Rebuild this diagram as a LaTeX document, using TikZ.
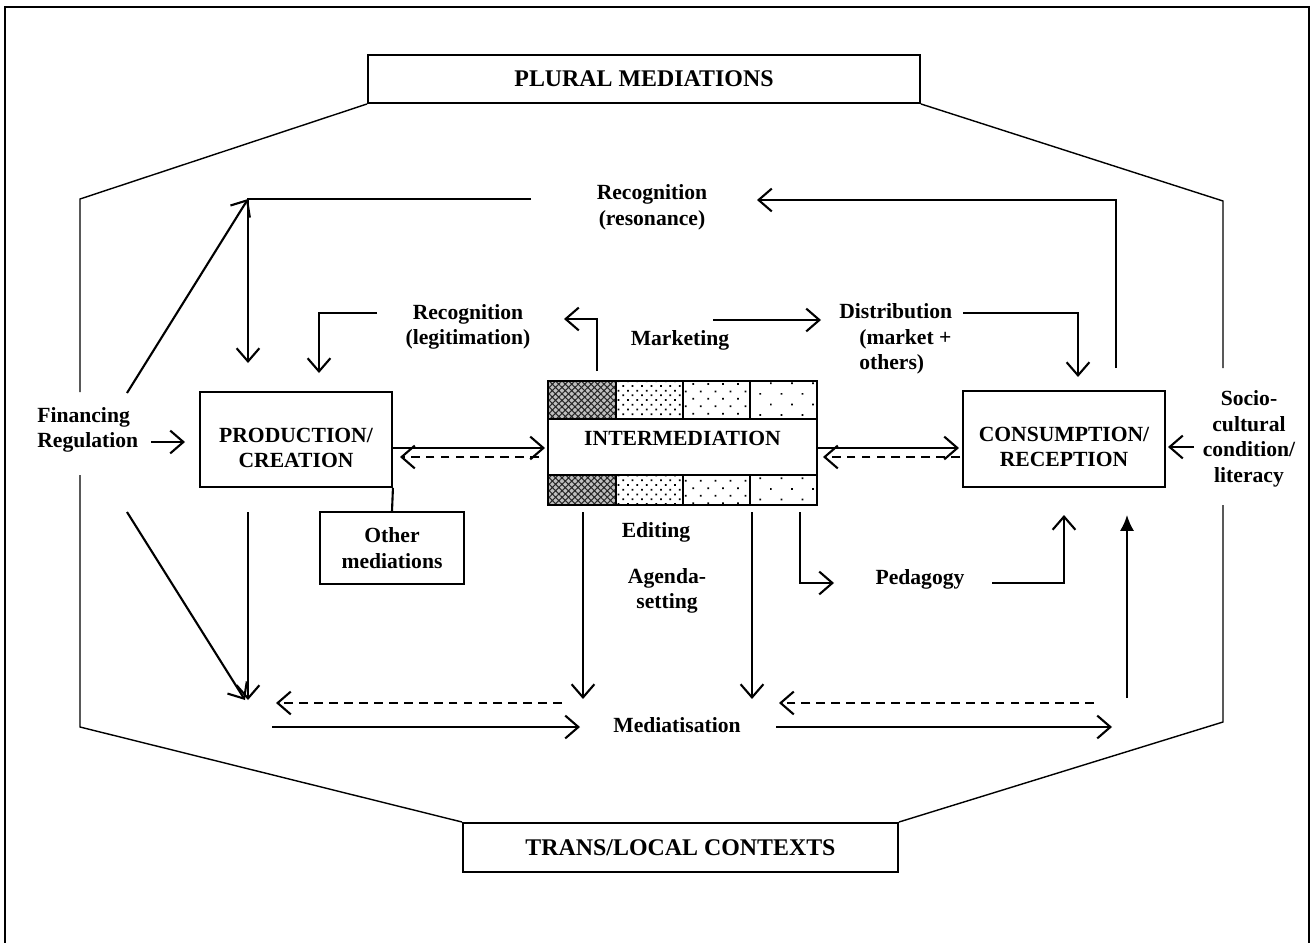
\documentclass[tikz,border=0pt]{standalone}
\usepackage{fontspec}
\setmainfont{Liberation Serif}
\usepackage{tikz}
\usetikzlibrary{arrows.meta,patterns.meta,positioning}

\tikzset{
  every node/.style={font=\fontsize{12.3}{14.6}\selectfont\bfseries},
  box/.style={draw, line width=1.1pt, fill=white, inner sep=0pt},
  titlebox/.style={box, font=\fontsize{13.6}{16}\selectfont\bfseries},
  txt/.style={align=center, inner sep=0pt},
  rim/.style={line width=0.8pt},
  conn/.style={line width=1.2pt},
  arr/.style={conn, -{Straight Barb[length=7.5pt,width=13pt]}},
  darr/.style={arr, dash pattern=on 5pt off 3.5pt},
  farr/.style={conn, -{Latex[length=9pt,width=8pt]}},
  cellline/.style={line width=0.8pt},
}

\begin{document}
\begin{tikzpicture}[x=0.02cm,y=-0.02cm]
			%%%%% START %%%%%
			\useasboundingbox (0,0) rectangle (1313,943);
			\draw[line width=1pt] (5,943) -- (5,7) -- (1309,7) -- (1309,943);
			
			\node[titlebox, minimum width=11.04cm, minimum height=0.96cm] (plural) at (644,79) {PLURAL MEDIATIONS};
			\node[titlebox, minimum width=8.7cm, minimum height=0.98cm] (trans) at (680.5,847.5) {TRANS/LOCAL CONTEXTS};
			
			\draw[rim] (80,392) -- (80,199) -- (plural.south west);
			\draw[rim] (plural.south east) -- (1223,201) -- (1223,368);
			\draw[rim] (80,475) -- (80,727) -- (trans.north west);
			\draw[rim] (trans.north east) -- (1223,722) -- (1223,505);
			
			\node[box, minimum width=3.84cm, minimum height=1.9cm] (prod) at (296,439.5) {};
			\node[txt] (prodtxt) at (296,448) {PRODUCTION/\\CREATION};
			\node[box, txt, minimum width=2.88cm, minimum height=1.44cm] (other) at (392,548) {Other\\mediations};
			\draw[conn] (prod.south east) -- (other.north);
			
			\node[box, minimum width=4.04cm, minimum height=1.92cm] (cons) at (1064,439) {};
			\node[txt] (constxt) at (1064,447) {CONSUMPTION/\\RECEPTION};
			
			% intermediation with its patterned strips
			\fill[black!25] (548,381) rectangle (616,419);
			\fill[black!25] (548,475) rectangle (616,505);
			\draw[cellline, pattern={Hatch[angle=45,distance=2.6pt,line width=0.6pt]}, pattern color=black!85] (548,381) rectangle (616,419);
			\draw[cellline, pattern={Hatch[angle=45,distance=2.6pt,line width=0.6pt]}, pattern color=black!85] (548,475) rectangle (616,505);
			\foreach \xa/\xb/\dd in {616/683/3.8pt, 683/750/6pt, 750/817/8.5pt}{
				\draw[cellline, pattern={Dots[distance=\dd,radius=0.7pt,angle=45]}] (\xa,381) rectangle (\xb,419);
				\draw[cellline, pattern={Dots[distance=\dd,radius=0.7pt,angle=45]}] (\xa,475) rectangle (\xb,505);
			}
			\node[box, minimum width=5.38cm, minimum height=1.12cm] (inter) at (682.5,447) {};
			\node[txt] (intertxt) at (682.5,438) {INTERMEDIATION};
			\draw[conn] (548,381) rectangle (817,505);
			
			% labels
			\node[txt, anchor=west, align=left] (fin) at (37,430) {Financing\\Regulation};
			\node[txt] (socio) at (1249,439) {Socio-\\cultural\\condition/\\literacy};
			\node[txt] (resonance) at (652,207) {Recognition\\(resonance)};
			\node[txt] (legit) at (468,327) {Recognition\\(legitimation)};
			\node[txt] (mkt) at (680,340) {Marketing};
			\node[txt, anchor=west, align=left] (distr) at (839,339) {Distribution\\\hspace*{0.4cm}(market +\\\hspace*{0.4cm}others)};
			\node[txt] (edit) at (656,532) {Editing};
			\node[txt] (agenda) at (667,591) {Agenda-\\setting};
			\node[txt] (peda) at (920,579) {Pedagogy};
			\node[txt] (media) at (677,725) {Mediatisation};
			
			% free ends of the connectors
			\coordinate (rtl) at (248,199);
			\coordinate (rtr) at (531,199);
			\coordinate (prodin) at (248,363);
			\coordinate (finup) at (127,393);
			\coordinate (finr) at (151,442);
			\coordinate (prodl) at (185,442);
			\coordinate (findn) at (127,512);
			\coordinate (findntip) at (245,700);
			\coordinate (proddn) at (248,512);
			\coordinate (proddntip) at (248,700);
			\coordinate (consup) at (1116,368);
			\coordinate (rescorner) at (1116,200);
			\coordinate (restip) at (757,200);
			\coordinate (legr) at (377,313);
			\coordinate (legc) at (319,313);
			\coordinate (legtip) at (319,373);
			\coordinate (mkb) at (597,371);
			\coordinate (mkc) at (597,319);
			\coordinate (mktip) at (564,319);
			\coordinate (mks) at (713,320);
			\coordinate (mke) at (821,320);
			\coordinate (dis) at (963,313);
			\coordinate (disc) at (1078,313);
			\coordinate (distip) at (1078,377);
			\coordinate (pi1) at (392,448);
			\coordinate (pi2) at (545,448);
			\coordinate (pi3) at (539,457);
			\coordinate (pi4) at (400,457);
			\coordinate (ic1) at (818,448);
			\coordinate (ic2) at (959,448);
			\coordinate (ic3) at (960,457);
			\coordinate (ic4) at (823,457);
			\coordinate (soc1) at (1194,447);
			\coordinate (soc2) at (1168,447);
			\coordinate (ed1) at (583,512);
			\coordinate (ed2) at (583,699);
			\coordinate (ag1) at (752,512);
			\coordinate (ag2) at (752,699);
			\coordinate (pe1) at (800,512);
			\coordinate (pe2) at (800,583);
			\coordinate (pe3) at (834,583);
			\coordinate (pe4) at (992,583);
			\coordinate (pe5) at (1064,583);
			\coordinate (pe6) at (1064,515);
			\coordinate (up1) at (1127,698);
			\coordinate (up2) at (1127,515);
			\coordinate (ml1) at (562,703);
			\coordinate (ml2) at (276,703);
			\coordinate (ml3) at (272,727);
			\coordinate (ml4) at (580,727);
			\coordinate (mr1) at (1094,703);
			\coordinate (mr2) at (779,703);
			\coordinate (mr3) at (776,727);
			\coordinate (mr4) at (1112,727);
			
			% connectors
			\draw[arr] (rtr) -- (rtl) -- (prodin);
			\draw[arr] (finup) -- (rtl);
			\draw[arr] (finr) -- (prodl);
			\draw[arr] (findn) -- (findntip);
			\draw[arr] (proddn) -- (proddntip);
			\draw[arr] (consup) -- (rescorner) -- (restip);
			\draw[arr] (legr) -- (legc) -- (legtip);
			\draw[arr] (mkb) -- (mkc) -- (mktip);
			\draw[arr] (mks) -- (mke);
			\draw[arr] (dis) -- (disc) -- (distip);
			\draw[arr] (pi1) -- (pi2);
			\draw[darr] (pi3) -- (pi4);
			\draw[arr] (ic1) -- (ic2);
			\draw[darr] (ic3) -- (ic4);
			\draw[arr] (soc1) -- (soc2);
			\draw[arr] (ed1) -- (ed2);
			\draw[arr] (ag1) -- (ag2);
			\draw[arr] (pe1) -- (pe2) -- (pe3);
			\draw[arr] (pe4) -- (pe5) -- (pe6);
			\draw[farr] (up1) -- (up2);
			\draw[darr] (ml1) -- (ml2);
			\draw[arr] (ml3) -- (ml4);
			\draw[darr] (mr1) -- (mr2);
			\draw[arr] (mr3) -- (mr4);
			
			%%%%% END %%%%%
\end{tikzpicture}
\end{document}
